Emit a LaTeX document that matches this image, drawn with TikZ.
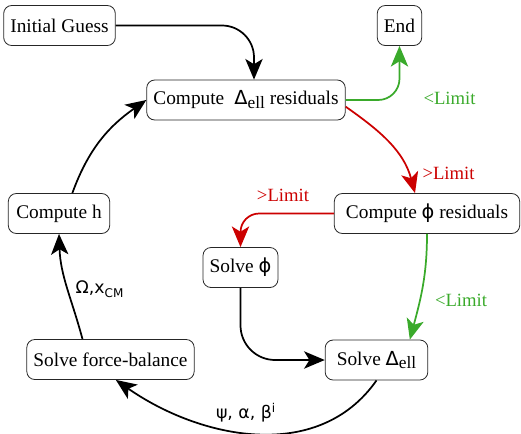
\documentclass[tikz,border=0pt]{standalone}
\usepackage{fontspec}
\setmainfont{Liberation Serif}
\newfontfamily\grk{DejaVu Sans}
\usetikzlibrary{arrows.meta}
\definecolor{limred}{RGB}{204,0,0}
\definecolor{limgreen}{RGB}{58,170,43}
\newcommand{\Dell}{{\grk Δ}\raisebox{-0.35ex}{\fontsize{13}{13}\selectfont ell}}

\begin{document}
\begin{tikzpicture}[x=0.75pt,y=-0.75pt,
    box/.style={draw=black!85,line width=0.6pt,rounded corners=6pt,minimum height=30pt,inner xsep=5pt,font=\fontsize{14.5}{16}\selectfont},
    flow/.style={-{Stealth[length=15.5pt,width=13pt,inset=4pt]},line width=1.3pt},
    lbl/.style={font=\fontsize{14}{16}\selectfont}]
  \useasboundingbox (0,0) rectangle (521,433);
  % boxes
  \node[box] (guess) at (59.5,25.5) {Initial Guess};
  \node[box] (end) at (399.5,25.5) {End};
  \node[box] (resell) at (246,100) {Compute \;\Dell{} residuals};
  \node[box,minimum width=76pt] (comph) at (59,213.5) {Compute h};
  \node[box,minimum width=139pt] (resphi) at (427,213.5) {Compute {\grk ϕ} residuals};
  \node[box] (solvephi) at (240.5,267.5) {Solve {\grk ϕ}};
  \node[box] (solvefb) at (110.5,359.5) {Solve force-balance};
  \node[box,minimum width=77pt] (solveell) at (376.5,360) {Solve \Dell};
  % connectors
  \draw[flow,rounded corners=24pt] (guess.east) -| ([xshift=6pt]resell.north);
  \draw[flow,limgreen,rounded corners=16pt] (resell.east) -| (end.south);
  \draw[flow,limred] ([yshift=-5pt]resell.east) to[out=-35,in=105] ([xshift=-9pt]resphi.north);
  \draw[flow,limred,rounded corners=14pt] (resphi.west) -| (solvephi.north);
  \draw[flow,limgreen] (resphi.south) to[out=-90,in=75] ([xshift=25pt]solveell.north);
  \draw[flow,rounded corners=26pt] (solvephi.south) |- (solveell.west);
  \draw[flow] (solveell.south) to[out=-125,in=-35] ([xshift=4pt]solvefb.south);
  \draw[flow] ([xshift=-21pt]solvefb.north) to[out=105,in=-88] (comph.south);
  \draw[flow] ([xshift=10pt]comph.north) to[out=70,in=-145] (resell.west);
  % labels
  \node[lbl,text=limgreen] (ltend) at (449.5,98) {<Limit};
  \node[lbl,text=limred] (gtres) at (448.5,173) {>Limit};
  \node[lbl,text=limred] (gtphi) at (283,195) {>Limit};
  \node[lbl,text=limgreen] (ltell) at (461,300) {<Limit};
  \node[lbl,font=\grk\fontsize{13}{15}\selectfont] (rates) at (246,413) {ψ, α, β\textsuperscript{i}};
  \node[lbl,font=\grk\fontsize{13}{15}\selectfont,anchor=west] (omega) at (71,289) {Ω,x\textsubscript{\fontsize{9}{9}\selectfont CM}};
\end{tikzpicture}
\end{document}
